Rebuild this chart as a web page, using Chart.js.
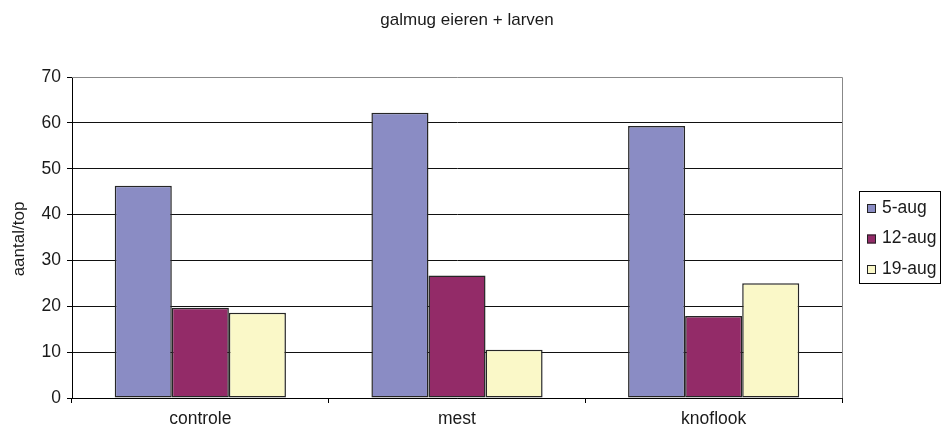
<!DOCTYPE html>
<html>
<head>
<meta charset="utf-8">
<script src="https://cdn.jsdelivr.net/npm/chart.js@4"></script>
<style>
html,body{margin:0;padding:0;background:#fff;}
#wrap{width:941px;height:432px;position:relative;}
</style>
</head>
<body>
<div id="wrap"><canvas id="c"></canvas></div>
<script>
const categories = ['controle', 'mest', 'knoflook'];
const seriesNames = ['5-aug', '12-aug', '19-aug'];
const aug5 = [46.3, 62.2, 59.3];
const aug12 = [19.7, 26.7, 17.9];
const aug19 = [18.6, 10.5, 25.0];
const colors = ['#8A8CC4', '#932B68', '#FAF8C8'];
const chartTitle = 'galmug eieren + larven';
const yTitle = 'aantal/top';

const FONT = '"Liberation Sans", Arial, sans-serif';
const TXT = '#1a1a1a';

const frame = {
  id: 'frame',
  afterDatasetsDraw(chart) {
    const {ctx, chartArea: a} = chart;
    ctx.save();
    ctx.strokeStyle = '#888';
    ctx.lineWidth = 1;
    ctx.beginPath();
    ctx.moveTo(a.left, a.top + 0.5);
    ctx.lineTo(a.right + 0.5, a.top + 0.5);
    ctx.lineTo(a.right + 0.5, a.bottom);
    ctx.stroke();
    ctx.restore();
  }
};

const titles = {
  id: 'titles',
  afterDraw(chart) {
    const ctx = chart.ctx;
    ctx.save();
    ctx.fillStyle = TXT;
    ctx.font = '17px ' + FONT;
    ctx.textAlign = 'center';
    ctx.textBaseline = 'middle';
    ctx.fillText(chartTitle, 467, 20);
    ctx.translate(19, 239);
    ctx.rotate(-Math.PI / 2);
    ctx.fillText(yTitle, 0, 0);
    ctx.restore();
  }
};

const boxLegend = {
  id: 'boxLegend',
  afterDraw(chart) {
    const ctx = chart.ctx;
    const x = 859, y = 191, w = 81, h = 92;
    ctx.save();
    ctx.strokeStyle = '#000';
    ctx.lineWidth = 1;
    ctx.strokeRect(x + 0.5, y + 0.5, w, h);
    ctx.font = '17.5px ' + FONT;
    ctx.textBaseline = 'middle';
    chart.data.datasets.forEach((ds, i) => {
      const cy = 208 + i * 30.5;
      ctx.fillStyle = ds.backgroundColor;
      ctx.fillRect(867, cy - 4, 9, 9);
      ctx.strokeStyle = '#222';
      ctx.strokeRect(867.5, cy - 3.5, 8, 8);
      ctx.fillStyle = TXT;
      ctx.fillText(ds.label, 882, cy);
    });
    ctx.restore();
  }
};

const data = {
  labels: categories,
  datasets: [aug5, aug12, aug19].map((vals, i) => ({
    label: seriesNames[i],
    data: vals,
    backgroundColor: colors[i],
    borderColor: '#262626',
    borderWidth: 1.5,
    borderSkipped: false,
    categoryPercentage: 0.667,
    barPercentage: 1.0
  }))
};

new Chart(document.getElementById('c'), {
  type: 'bar',
  data,
  options: {
    responsive: true,
    maintainAspectRatio: false,
    animation: false,
    layout: { padding: { top: 77, right: 99, left: 0, bottom: 0 } },
    plugins: {
      legend: { display: false },
      tooltip: { enabled: false },
      title: { display: false }
    },
    scales: {
      x: {
        afterFit(s) { s.height = 34; },
        grid: { display: true, drawOnChartArea: false, drawTicks: true, tickLength: 5, offset: true, color: '#000' },
        border: { color: '#000', width: 1 },
        ticks: { color: TXT, font: { family: FONT, size: 17.5 }, padding: 6, maxRotation: 0 }
      },
      y: {
        min: 0, max: 70,
        afterFit(s) { s.width = 72; },
        ticks: { stepSize: 10, color: TXT, font: { family: FONT, size: 17.5 }, padding: 6 },
        grid: {
          color: (c) => (c.tick && c.tick.value === 70) ? 'rgba(0,0,0,0)' : '#111',
          tickColor: '#000',
          tickLength: 5,
          drawTicks: true
        },
        border: { color: '#000', width: 1 },
        title: { display: false }
      }
    }
  },
  plugins: [frame, titles, boxLegend]
});
</script>
</body>
</html>
